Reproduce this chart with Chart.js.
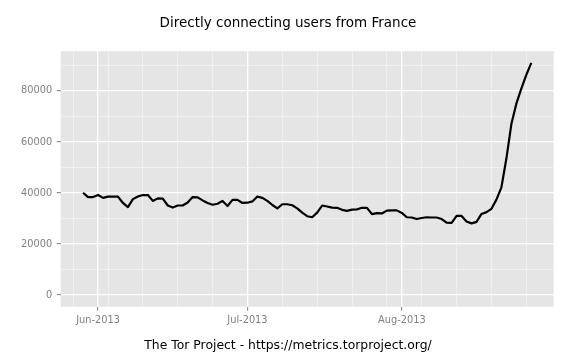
<!DOCTYPE html>
<html>
<head>
<meta charset="utf-8">
<script src="https://cdn.jsdelivr.net/npm/chart.js@4/dist/chart.umd.min.js"></script>
<style>
html,body{margin:0;padding:0;background:#fff;}
canvas{display:block;}
</style>
</head>
<body>
<canvas id="c" width="576" height="360"></canvas>
<script>
const titleText = 'Directly connecting users from France';
const captionText = 'The Tor Project - https://metrics.torproject.org/';

const dates = [
'2013-05-29','2013-05-30','2013-05-31',
'2013-06-01','2013-06-02','2013-06-03','2013-06-04','2013-06-05','2013-06-06','2013-06-07','2013-06-08','2013-06-09','2013-06-10',
'2013-06-11','2013-06-12','2013-06-13','2013-06-14','2013-06-15','2013-06-16','2013-06-17','2013-06-18','2013-06-19','2013-06-20',
'2013-06-21','2013-06-22','2013-06-23','2013-06-24','2013-06-25','2013-06-26','2013-06-27','2013-06-28','2013-06-29','2013-06-30',
'2013-07-01','2013-07-02','2013-07-03','2013-07-04','2013-07-05','2013-07-06','2013-07-07','2013-07-08','2013-07-09','2013-07-10',
'2013-07-11','2013-07-12','2013-07-13','2013-07-14','2013-07-15','2013-07-16','2013-07-17','2013-07-18','2013-07-19','2013-07-20',
'2013-07-21','2013-07-22','2013-07-23','2013-07-24','2013-07-25','2013-07-26','2013-07-27','2013-07-28','2013-07-29','2013-07-30','2013-07-31',
'2013-08-01','2013-08-02','2013-08-03','2013-08-04','2013-08-05','2013-08-06','2013-08-07','2013-08-08','2013-08-09','2013-08-10',
'2013-08-11','2013-08-12','2013-08-13','2013-08-14','2013-08-15','2013-08-16','2013-08-17','2013-08-18','2013-08-19','2013-08-20',
'2013-08-21','2013-08-22','2013-08-23','2013-08-24','2013-08-25','2013-08-26','2013-08-27'
];

const users = [
40100,38400,38400,
39200,38100,38600,38600,38600,36100,34500,37600,38600,39200,
39200,36900,37900,37800,35100,34300,35100,35100,36300,38400,
38300,37100,36100,35400,35800,36900,34900,37300,37300,36100,
36200,36700,38600,38100,36900,35300,34000,35600,35600,35200,
34000,32300,30900,30500,32300,35100,34700,34300,34200,33400,
33000,33500,33600,34200,34200,31700,32100,32000,33100,33200,33200,
32200,30500,30400,29800,30200,30500,30400,30400,29800,28400,
28300,31000,31000,28800,28100,28700,31800,32500,33800,37400,
42200,53500,67000,75000,80900,86300,91000
];

const monthTickDates = ['2013-06-01','2013-07-01','2013-08-01'];
const monthTickLabels = ['Jun-2013','Jul-2013','Aug-2013'];
const weekTickDates = ['2013-05-27','2013-06-03','2013-06-10','2013-06-17','2013-06-24','2013-07-08','2013-07-15','2013-07-22','2013-07-29','2013-08-05','2013-08-12','2013-08-19','2013-08-26'];

const yMajorTicks = [0,20000,40000,60000,80000];
const yMinorTicks = [10000,30000,50000,70000,90000];

function dayNum(s){
  const p = s.split('-').map(Number);
  return (Date.UTC(p[0],p[1]-1,p[2]) - Date.UTC(2013,4,29)) / 86400000;
}

const points = dates.map((d,i)=>({x: dayNum(d), y: users[i]}));
const firstDay = dayNum(dates[0]);
const lastDay = dayNum(dates[dates.length-1]);
const xPad = (lastDay-firstDay)*0.05;
const yMax = Math.max(...users);
const yPad = yMax*0.05;

const monthMap = {};
monthTickDates.forEach((d,i)=>{ monthMap[dayNum(d)] = monthTickLabels[i]; });

const FONT = "'DejaVu Sans', 'Liberation Sans', sans-serif";

const bgPlugin = {
  id: 'panelbg',
  beforeDraw(chart){
    const ctx = chart.ctx, a = chart.chartArea;
    ctx.save();
    ctx.fillStyle = '#ffffff';
    ctx.fillRect(0,0,chart.width,chart.height);
    ctx.fillStyle = '#E5E5E5';
    ctx.fillRect(a.left, a.top, a.right-a.left, a.bottom-a.top);
    ctx.restore();
  }
};

new Chart(document.getElementById('c'), {
  type: 'line',
  data: {
    datasets: [{
      data: points,
      borderColor: '#000000',
      borderWidth: 2.2,
      pointRadius: 0,
      tension: 0,
      fill: false,
      borderJoinStyle: 'round'
    }]
  },
  options: {
    responsive: false,
    animation: false,
    devicePixelRatio: 1,
    layout: { padding: 0 },
    plugins: {
      legend: { display: false },
      tooltip: { enabled: false },
      title: {
        display: true,
        text: titleText,
        color: '#000000',
        font: { family: FONT, size: 13.5, weight: 'normal' },
        padding: { top: 15.5, bottom: 19.5 }
      },
      subtitle: {
        display: true,
        position: 'bottom',
        text: captionText,
        color: '#000000',
        font: { family: FONT, size: 12.4, weight: 'normal' },
        padding: { top: 7.4, bottom: 7 }
      }
    },
    scales: {
      x: {
        type: 'linear',
        min: firstDay - xPad,
        max: lastDay + xPad,
        afterBuildTicks(scale){
          const t = [];
          weekTickDates.forEach(d=>{ const v = dayNum(d); if (!(v in monthMap)) t.push({value: v, minor: true}); });
          monthTickDates.forEach(d=>t.push({value: dayNum(d), minor: false}));
          t.sort((a,b)=>a.value-b.value);
          scale.ticks = t;
        },
        afterFit(scale){ scale.height = 24; },
        border: { display: false },
        grid: {
          drawTicks: true,
          tickLength: 4,
          color: ctx => (ctx.tick && ctx.tick.minor) ? '#F2F2F2' : '#FFFFFF',
          lineWidth: ctx => (ctx.tick && ctx.tick.minor) ? 0.8 : 1.3,
          tickColor: ctx => (ctx.tick && ctx.tick.minor) ? 'rgba(0,0,0,0)' : '#7F7F7F',
          tickWidth: 1
        },
        ticks: {
          autoSkip: false,
          maxRotation: 0,
          padding: 4,
          color: '#7F7F7F',
          font: { family: FONT, size: 9.8 },
          callback: v => (v in monthMap) ? monthMap[v] : ''
        }
      },
      y: {
        type: 'linear',
        min: -yPad,
        max: yMax + yPad,
        afterBuildTicks(scale){
          const t = [];
          yMajorTicks.forEach(v=>t.push({value: v, minor: false}));
          yMinorTicks.forEach(v=>t.push({value: v, minor: true}));
          t.sort((a,b)=>a.value-b.value);
          scale.ticks = t;
        },
        afterFit(scale){ scale.width = 60.7; },
        border: { display: false },
        grid: {
          drawTicks: true,
          tickLength: 4,
          color: ctx => (ctx.tick && ctx.tick.minor) ? '#F2F2F2' : '#FFFFFF',
          lineWidth: ctx => (ctx.tick && ctx.tick.minor) ? 0.8 : 1.3,
          tickColor: ctx => (ctx.tick && ctx.tick.minor) ? 'rgba(0,0,0,0)' : '#7F7F7F',
          tickWidth: 1
        },
        ticks: {
          autoSkip: false,
          padding: 4.5,
          color: '#7F7F7F',
          font: { family: FONT, size: 9.8 },
          callback: v => yMajorTicks.includes(v) ? String(v) : ''
        }
      },
      yRightSpace: {
        type: 'linear',
        position: 'right',
        display: true,
        min: 0,
        max: 1,
        afterFit(scale){ scale.width = 22.3; },
        border: { display: false },
        grid: { display: false, drawTicks: false },
        ticks: { display: false }
      }
    }
  },
  plugins: [bgPlugin]
});
</script>
</body>
</html>
